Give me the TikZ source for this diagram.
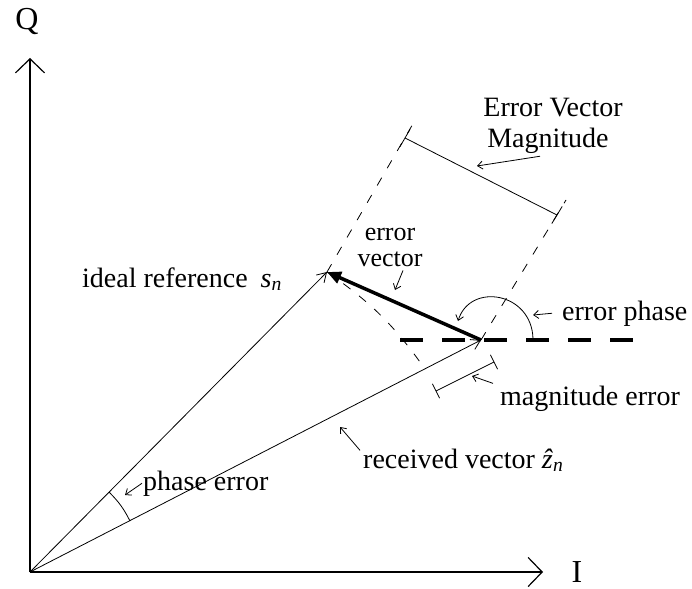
\documentclass[tikz,border=0pt]{standalone}
\usepackage{fontspec}
\setmainfont{Liberation Serif}
\usetikzlibrary{arrows.meta,calc}

\tikzset{
  axis/.style={line width=1.2pt,-{Straight Barb[length=14pt,width=29pt]}},
  vec/.style={line width=0.8pt,-{Straight Barb[length=9pt,width=11pt]}},
  errvec/.style={line width=3.5pt,-{Triangle[length=14pt,width=12pt]}},
  guide/.style={line width=0.8pt,dash pattern=on 9pt off 11pt},
  pointer/.style={line width=0.8pt,-{Straight Barb[length=5pt,width=8pt]}},
  lbl/.style={font=\fontsize{28}{30}\selectfont,inner sep=0pt},
}

\begin{document}
\begin{tikzpicture}[x=1pt,y=-1pt]
\useasboundingbox (0,0) rectangle (692,588);

% axes
\coordinate (O) at (30,572);
\coordinate (Qtip) at (30,58);
\coordinate (Itip) at (543,572);
\draw[axis] (O) -- (Qtip);
\draw[axis] (O) -- (Itip);
\node[lbl,font=\fontsize{32}{34}\selectfont,anchor=base] (Qlab) at (27,30) {Q};
\node[lbl,font=\fontsize{32}{34}\selectfont,anchor=base] (Ilab) at (577,582) {I};

% the three vectors
\coordinate (S) at (327,272);
\coordinate (R) at (481,340);
\draw[vec] (O) -- (S);
\draw[vec] (O) -- (R);
\draw[line width=3.5pt,dash pattern=on 23pt off 19pt] (400,340) -- (652,340);
\draw[errvec] (R) -- (S);

% error vector magnitude
\coordinate (gl) at (414,122);
\coordinate (gr) at (566,200);
\coordinate (bl) at (405,138);
\coordinate (br) at (557,215);
\draw[guide] (S) -- (gl);
\draw[guide] (R) -- (gr);
\draw[line width=0.8pt] (bl) -- (br);
\draw[line width=0.8pt] ($(bl)!10pt!(S)$) -- ($(bl)!-10pt!(S)$);
\draw[line width=0.8pt] ($(br)!10pt!(R)$) -- ($(br)!-10pt!(R)$);

% magnitude error
\coordinate (M1) at (425,369);
\coordinate (ml) at (436,391);
\coordinate (mr) at (494,362);
\draw[guide] (S) to[bend left=10] (M1);
\draw[line width=0.8pt] (ml) -- (mr);
\draw[line width=0.8pt] ($(ml)!8pt!90:(mr)$) -- ($(ml)!8pt!-90:(mr)$);
\draw[line width=0.8pt] ($(mr)!8pt!90:(ml)$) -- ($(mr)!8pt!-90:(ml)$);

% phase error and error phase arcs
\coordinate (pa1) at (109,492);
\coordinate (pa2) at (130,521);
\draw[line width=0.8pt] (pa1) to[bend left=9] (pa2);
\coordinate (ea1) at (533,339);
\coordinate (ea2) at (458,321);
\draw[pointer] (ea1) .. controls (532,292) and (470,282) .. (ea2);

% labels
\node[lbl,anchor=base west] (idealtxt) at (82,287) {ideal reference\hspace{6pt} \textit{s}\textsubscript{\textit{n}}};
\node[lbl,anchor=base west] (recvtxt) at (363,468) {received vector \textit{\^z}\textsubscript{\textit{n}}};
\node[lbl,anchor=base west] (petxt) at (143,490) {phase error};
\node[lbl,anchor=base west] (eptxt) at (562,320) {error phase};
\node[lbl,anchor=base west] (metxt) at (500,405) {magnitude error};
\node[lbl,align=center,font=\fontsize{26}{26}\selectfont] (evtxt) at (390,247) {error\\vector};
\node[lbl,anchor=base] (evmtxt1) at (553,117) {Error Vector};
\node[lbl,anchor=base] (evmtxt2) at (548,148) {Magnitude};

% pointers
\draw[pointer] ([xshift=-1pt]petxt.west) -- (125,495);
\draw[pointer] ([xshift=-3pt,yshift=-2pt]recvtxt.north west) -- (340,427);
\draw[pointer] ([xshift=13pt,yshift=-4pt]evtxt.south) -- (395,290);
\draw[pointer] ([xshift=-8pt,yshift=-2pt]evmtxt2.south) -- (477,166);
\draw[pointer] ([xshift=-10pt]eptxt.west) -- (533,315);
\draw[pointer] ([xshift=-7pt,yshift=2pt]metxt.north west) -- (472,376);

\end{tikzpicture}
\end{document}
